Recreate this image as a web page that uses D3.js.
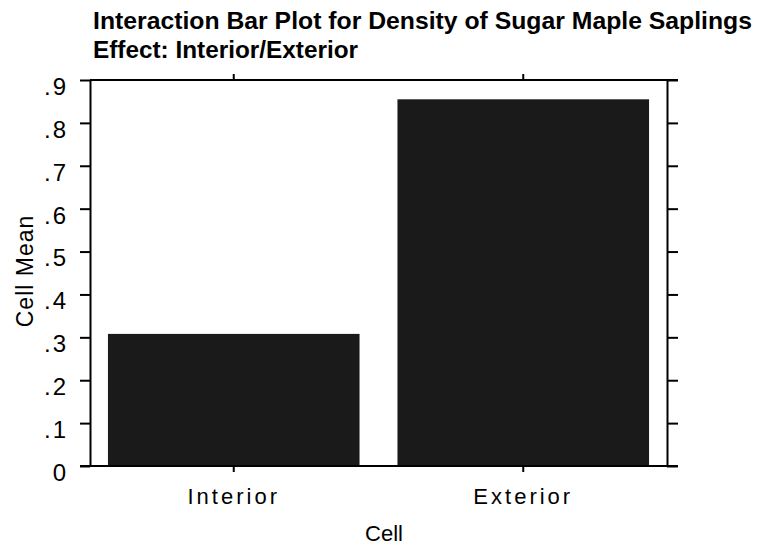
<!DOCTYPE html>
<html lang="en">
<head>
	<meta charset="UTF-8">
	<title>Interaction Bar Plot</title>
	<script src="https://cdn.jsdelivr.net/npm/d3@7"></script>
	<style>
		html,body{
			margin:0;
			padding:0;
			background:#fff;
		}
		svg{
			display:block;
			font-family:"Liberation Sans", Arial, Helvetica, sans-serif;
		}
	</style>
</head>
<body>
	<svg id="svg" width="764" height="548"></svg>
	<script>
		// data
		var cells = ["Interior", "Exterior"];
		var cellMeans = [0.308, 0.855];
		var yTicks = [0, .1, .2, .3, .4, .5, .6, .7, .8, .9];
		var yTickLabels = ["0", ".1", ".2", ".3", ".4", ".5", ".6", ".7", ".8", ".9"];
		var titleLines = ["Interaction Bar Plot for Density of Sugar Maple Saplings", "Effect: Interior/Exterior"];

		var svg = d3.select("#svg");
		var plotLeft = 90, plotRight = 667, plotTop = 80, plotBottom = 466;

		var x = d3.scaleBand()
			.domain(cells)
			.range([plotLeft, plotRight])
			.paddingInner(0.131)
			.paddingOuter(0.062);
		var y = d3.scaleLinear()
			.domain([0, .9])
			.range([plotBottom, plotTop]);

		// title
		svg.append("g").selectAll("text")
			.data(titleLines)
			.enter().append("text")
			.attr("x", 93)
			.attr("y", (d, i) => 29 + i * 29)
			.attr("font-size", 24)
			.attr("font-weight", "bold")
			.attr("textLength", (d, i) => i == 0 ? 659 : 265)
			.attr("lengthAdjust", "spacingAndGlyphs")
			.attr("fill", "#000")
			.text(d => d);

		// bars
		svg.append("g").selectAll("rect")
			.data(cellMeans)
			.enter().append("rect")
			.attr("x", (d, i) => x(cells[i]))
			.attr("y", d => y(d))
			.attr("width", x.bandwidth())
			.attr("height", d => y(0) - y(d))
			.attr("fill", "#1a1a1a");

		// axes
		var fmt = d => yTickLabels[yTicks.indexOf(d)];
		var yl = svg.append("g")
			.attr("transform", "translate(" + plotLeft + ",0)")
			.call(d3.axisLeft(y).tickValues(yTicks).tickFormat(fmt).tickSize(10).tickSizeOuter(0));
		yl.selectAll("text")
			.attr("font-size", 24)
			.attr("font-family", "Liberation Sans, Arial, sans-serif")
			.attr("letter-spacing", 2)
			.attr("dy", "0.6em")
			.attr("x", -22)
			.attr("fill", "#000");

		svg.append("g")
			.attr("transform", "translate(" + plotRight + ",0)")
			.call(d3.axisRight(y).tickValues(yTicks).tickFormat("").tickSize(11).tickSizeOuter(0));

		var xb = svg.append("g")
			.attr("transform", "translate(0," + plotBottom + ")")
			.call(d3.axisBottom(x).tickSize(6).tickSizeOuter(0));
		xb.select(".domain").remove();
		xb.selectAll("text")
			.attr("font-size", 22)
			.attr("font-family", "Liberation Sans, Arial, sans-serif")
			.attr("letter-spacing", 3)
			.attr("y", 22)
			.attr("dy", "0.71em")
			.attr("fill", "#000");

		var xt = svg.append("g")
			.attr("transform", "translate(0," + plotTop + ")")
			.call(d3.axisTop(x).tickSize(6).tickFormat("").tickSizeOuter(0));
		xt.select(".domain").remove();

		svg.selectAll(".domain, .tick line")
			.attr("stroke", "#000")
			.attr("stroke-width", 2);

		// frame lines across top and bottom
		svg.append("line")
			.attr("x1", plotLeft).attr("x2", plotRight + 11)
			.attr("y1", y(.9)).attr("y2", y(.9))
			.attr("stroke", "#000").attr("stroke-width", 2);
		svg.append("line")
			.attr("x1", plotLeft - 10).attr("x2", plotRight + 11)
			.attr("y1", y(0)).attr("y2", y(0))
			.attr("stroke", "#000").attr("stroke-width", 2);

		// axis titles
		svg.append("text")
			.attr("x", 384)
			.attr("y", 541)
			.attr("text-anchor", "middle")
			.attr("font-size", 22)
			.text("Cell");
		svg.append("text")
			.attr("transform", "translate(33,271) rotate(-90)")
			.attr("text-anchor", "middle")
			.attr("font-size", 23)
			.attr("letter-spacing", 1)
			.text("Cell Mean");
	</script>
</body>
</html>
